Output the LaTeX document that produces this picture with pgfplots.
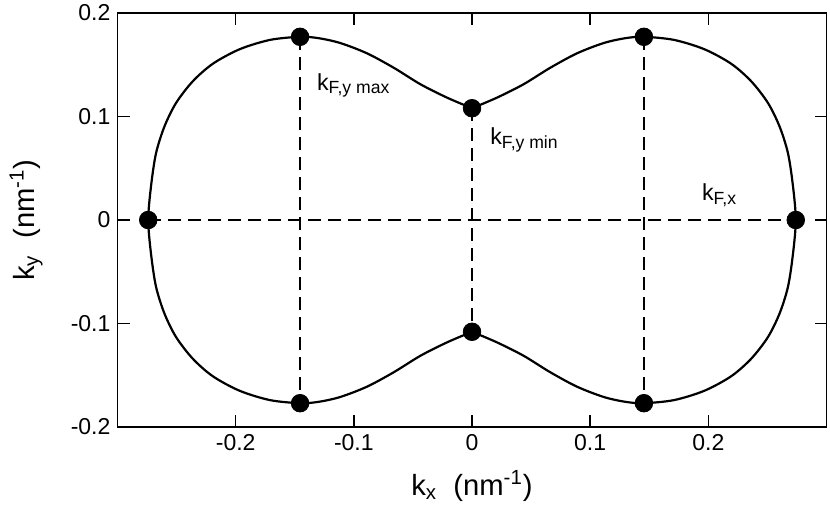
\documentclass[border=0pt]{standalone}
\usepackage{pgfplots}
\pgfplotsset{compat=1.18}
\usepackage{fontspec}
\setmainfont{Liberation Sans}
% subscrito ao estilo do xmgrace
\newcommand\sub[1]{\raisebox{-1.7pt}{\fontsize{8.8}{10}\selectfont #1}}

\begin{document}
\begin{tikzpicture}
\begin{axis}[
    scale only axis,
    width=354.5pt, height=207pt,
    xmin=-0.3, xmax=0.3, ymin=-0.2, ymax=0.2,
    xtick={-0.2,-0.1,0,0.1,0.2},
    xticklabels={-0.2,-0.1,0,0.1,0.2},
    ytick={-0.2,-0.1,0,0.1,0.2},
    yticklabels={-0.2,-0.1,0,0.1,0.2},
    tick align=inside,
    major tick length=6pt,
    tick style={black, line width=0.75pt},
    axis line style={line width=0.8pt},
    ticklabel style={font=\fontsize{11.5}{14}\selectfont},
    xlabel={k\textsubscript{x}\ \ (nm\textsuperscript{-1})},
    ylabel={k\textsubscript{y}\ \ (nm\textsuperscript{-1})},
    label style={font=\fontsize{14.6}{17}\selectfont, inner sep=0pt},
    xlabel style={at={(axis description cs:0.5,0)}, anchor=base, yshift=-34pt},
    ylabel style={at={(axis description cs:-0.105,0.5)}, anchor=south},
    clip=false,
]
    % curva (metade esquerda / direita)
    \addplot[black, line width=1.1pt, smooth] coordinates {
        (0,0.108) (-0.0207,0.118) (-0.0434,0.131) (-0.0661,0.147)
        (-0.0888,0.161) (-0.1115,0.171) (-0.1300,0.1757) (-0.1455,0.177)
        (-0.171,0.174) (-0.1966,0.165) (-0.2193,0.151) (-0.2363,0.134)
        (-0.2505,0.113) (-0.2604,0.090) (-0.2675,0.064) (-0.2717,0.032)
        (-0.274,0)
        (-0.2717,-0.032) (-0.2675,-0.064) (-0.2604,-0.090) (-0.2505,-0.113)
        (-0.2363,-0.134) (-0.2193,-0.151) (-0.1966,-0.165) (-0.171,-0.174)
        (-0.1455,-0.177) (-0.1300,-0.1757) (-0.1115,-0.171) (-0.0888,-0.161)
        (-0.0661,-0.147) (-0.0434,-0.131) (-0.0207,-0.118) (0,-0.108)
    };
    \addplot[black, line width=1.1pt, smooth] coordinates {
        (0,0.108) (0.0207,0.118) (0.0434,0.131) (0.0661,0.147)
        (0.0888,0.161) (0.1115,0.171) (0.1300,0.1757) (0.1455,0.177)
        (0.171,0.174) (0.1966,0.165) (0.2193,0.151) (0.2363,0.134)
        (0.2505,0.113) (0.2604,0.090) (0.2675,0.064) (0.2717,0.032)
        (0.274,0)
        (0.2717,-0.032) (0.2675,-0.064) (0.2604,-0.090) (0.2505,-0.113)
        (0.2363,-0.134) (0.2193,-0.151) (0.1966,-0.165) (0.171,-0.174)
        (0.1455,-0.177) (0.1300,-0.1757) (0.1115,-0.171) (0.0888,-0.161)
        (0.0661,-0.147) (0.0434,-0.131) (0.0207,-0.118) (0,-0.108)
    };
    % linhas tracejadas
    \addplot[black, line width=1pt, dash pattern=on 6.5pt off 3.5pt] coordinates {(-0.274,0) (0.274,0)};
    \addplot[black, line width=1pt, dash pattern=on 6.5pt off 3.5pt] coordinates {(-0.1455,0.177) (-0.1455,-0.177)};
    \addplot[black, line width=1pt, dash pattern=on 6.5pt off 3.5pt] coordinates {(0,0.108) (0,-0.108)};
    \addplot[black, line width=1pt, dash pattern=on 6.5pt off 3.5pt] coordinates {(0.1455,0.177) (0.1455,-0.177)};
    % pontos
    \addplot[black, only marks, mark=*, mark size=4.4pt] coordinates {
        (-0.274,0) (0.274,0) (-0.1455,0.177) (0.1455,0.177)
        (-0.1455,-0.177) (0.1455,-0.177) (0,0.108) (0,-0.108)
    };
    \node[anchor=base west, inner sep=0pt, font=\fontsize{11.6}{14}\selectfont] at (axis cs:-0.1314,0.1256) {k\sub{F,y max}};
    \node[anchor=base west, inner sep=0pt, font=\fontsize{11.6}{14}\selectfont] at (axis cs:0.0152,0.0725) {k\sub{F,y min}};
    \node[anchor=base west, inner sep=0pt, font=\fontsize{11.6}{14}\selectfont] at (axis cs:0.1943,0.0187) {k\sub{F,x}};
\end{axis}
\pgfresetboundingbox
\path ([shift={(-58.75pt,-42.5pt)}]current axis.south west) rectangle ([shift={(1.75pt,6.5pt)}]current axis.north east);
\end{tikzpicture}
\end{document}
